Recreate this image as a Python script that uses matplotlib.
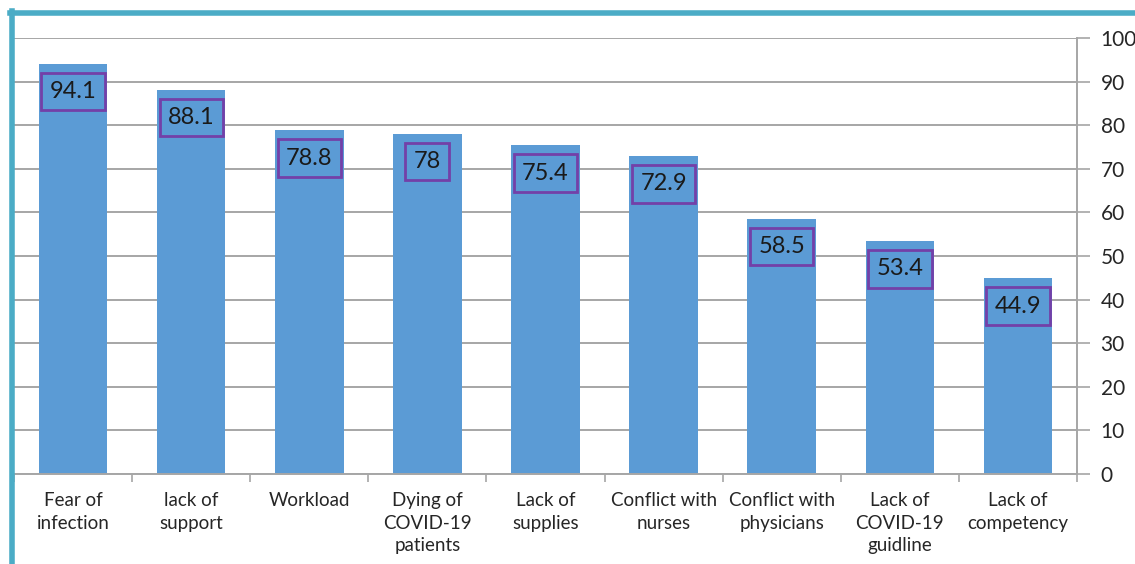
import matplotlib.pyplot as plt
from matplotlib.lines import Line2D
import numpy as np

categories = ["Fear of\ninfection", "lack of\nsupport", "Workload", "Dying of\nCOVID-19\npatients",
              "Lack of\nsupplies", "Conflict with\nnurses", "Conflict with\nphysicians",
              "Lack of\nCOVID-19\nguidline", "Lack of\ncompetency"]
values = [94.1, 88.1, 78.8, 78, 75.4, 72.9, 58.5, 53.4, 44.9]
labels = ["94.1", "88.1", "78.8", "78", "75.4", "72.9", "58.5", "53.4", "44.9"]

BAR = "#5B9BD5"
GRID = "#A6A6A6"
BOX = "#7340A8"
TEAL = "#4BACC6"

plt.rcParams["font.family"] = ["Lato", "DejaVu Sans"]

fig = plt.figure(figsize=(11.35, 5.64), dpi=100)
ax = fig.add_axes([14 / 1135, 1 - 474 / 564, (1077 - 14) / 1135, (474 - 38) / 564])

x = np.arange(len(categories))
ax.bar(x, values, width=0.58, color=BAR, zorder=2)
ax.set_xlim(-0.5, len(categories) - 0.5)
ax.set_ylim(0, 100)

for xi, v, lab in zip(x, values, labels):
    ax.annotate(lab, (xi, v), xytext=(0, -20), textcoords="offset points",
                ha="center", va="center", fontsize=17, color="#1a1a1a", zorder=3,
                bbox=dict(boxstyle="square,pad=0.35", fc="none", ec=BOX, lw=2))

# y axis on the right
ax.yaxis.tick_right()
ax.set_yticks(np.arange(0, 101, 10))
ax.tick_params(axis="y", length=9, width=1.2, color=GRID, labelsize=15,
               labelcolor="#262626", pad=8)
ax.grid(axis="y", color=GRID, lw=1.4, zorder=0)

# x axis: labels centred, ticks at boundaries
ax.set_xticks(x)
ax.set_xticklabels(categories, fontsize=13.5, color="#262626", linespacing=1.4, va="top")
ax.set_xticks(np.arange(-0.5, len(categories)), minor=True)
ax.tick_params(axis="x", which="major", length=0, pad=13)
ax.tick_params(axis="x", which="minor", length=6, width=1.2, color=GRID)

for s in ["top", "left"]:
    ax.spines[s].set_visible(False)
for s in ["right", "bottom"]:
    ax.spines[s].set_color(GRID)
    ax.spines[s].set_linewidth(1.4)

# teal frame on top and left
fig.add_artist(Line2D([10 / 1135, 1], [1 - 13 / 564, 1 - 13 / 564], color=TEAL, lw=4,
                      transform=fig.transFigure))
fig.add_artist(Line2D([12 / 1135, 12 / 1135], [0, 1 - 11 / 564], color=TEAL, lw=4,
                      transform=fig.transFigure))

fig.savefig("out.png", dpi=100)
